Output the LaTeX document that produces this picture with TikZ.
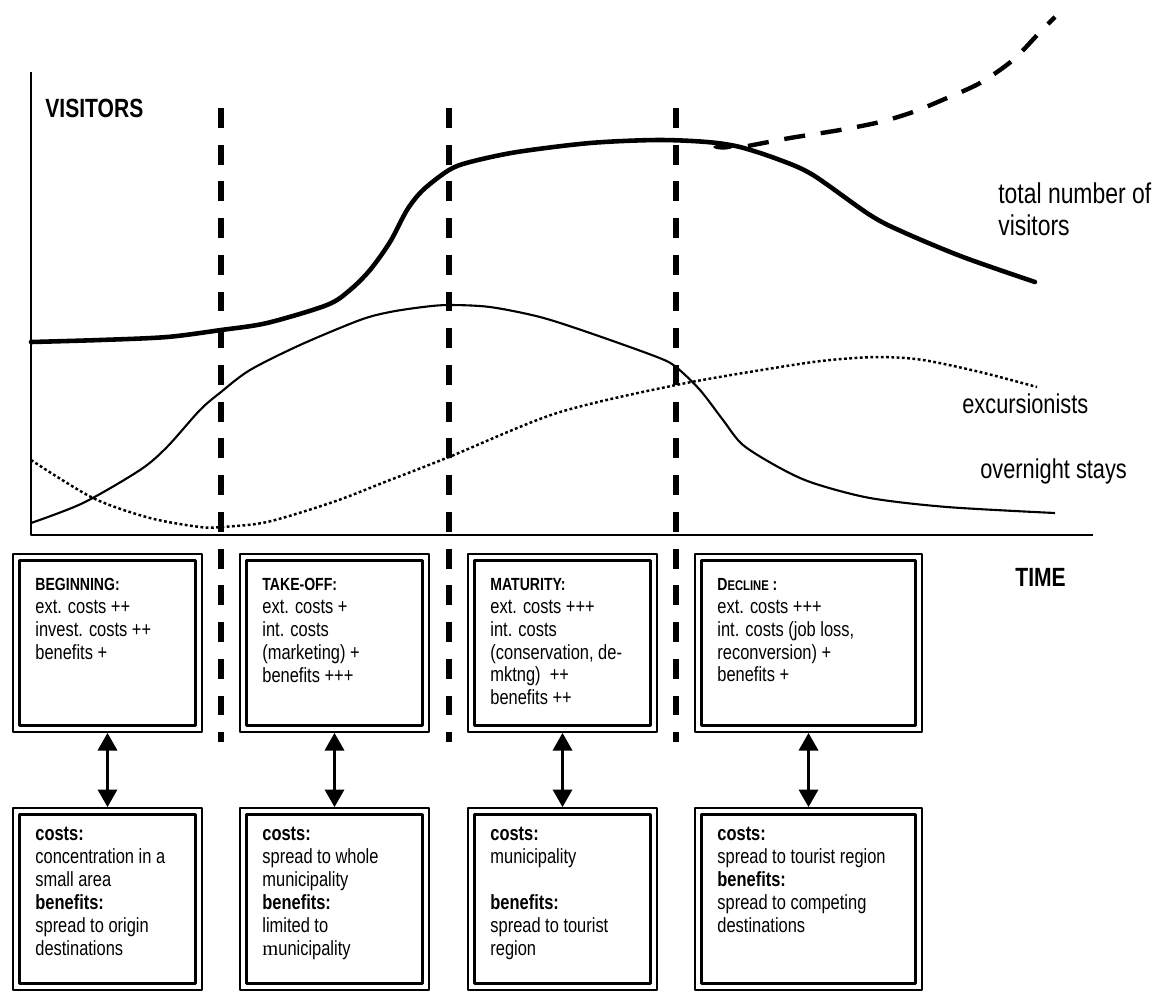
\documentclass[tikz,border=0pt]{standalone}
\usepackage{fontspec}
\setmainfont{Liberation Sans}[FakeStretch=0.8]
\newfontfamily\serifm{Liberation Serif}
\usetikzlibrary{arrows.meta}
\newcommand{\stagehead}[1]{{\fontsize{10}{12}\selectfont\bfseries #1}}
\tikzset{
  stagebox/.style={draw, line width=1.1pt, inner sep=0pt, minimum width=3.78cm, minimum height=3.56cm},
  spreadbox/.style={stagebox, minimum height=3.64cm},
  stagetext/.style={anchor=north west, align=left, inner sep=0pt, font=\fontsize{11.7}{13}\selectfont},
  curvelabel/.style={anchor=base west, inner sep=0pt, font=\fontsize{15.5}{18.7}\selectfont},
  phaseline/.style={line width=3.6pt, dash pattern=on 11.3pt off 9.6pt},
}

\begin{document}
\begin{tikzpicture}[line join=round,>={Triangle[length=10pt,width=11pt]},x=0.02cm,y=-0.02cm]
\useasboundingbox (0,0) rectangle (1165,992);

% axes
\draw [line width=1.2pt] (31,72) -- (31,535) -- (1093,535);
\node [curvelabel, font=\fontsize{15}{18}\selectfont\bfseries] (visitors) at (45,117) {VISITORS};
\node [curvelabel, font=\fontsize{15}{18}\selectfont\bfseries] (time) at (1015,586) {TIME};

% phase limits
\foreach \x in {221,449,676}
  \draw [phaseline] (\x,108) -- (\x,742);

% total number of visitors
\draw [line width=2.6pt,line cap=round] plot [smooth,tension=0.5] coordinates {(31,342) (100,340) (167,337) (221,330) (267,323) (327,305) (350,290) (370,270) (390,242) (407,210) (423,190) (449,170) (470,162) (517,152) (590,143) (657,140) (707,142) (740,147) (780,160) (813,175) (870,215) (903,232) (963,257) (1035,282)};
\fill (723,147) ellipse (5.5pt and 1.5pt);
\draw [line width=2.5pt,dash pattern=on 12pt off 9pt] plot [smooth,tension=0.5] coordinates {(748,146) (790,138) (840,130) (880,122) (913,112) (947,98) (980,83) (1013,60) (1040,32) (1055,17)};
% overnight stays
\draw [line width=1.2pt] plot [smooth,tension=0.5] coordinates {(31,523) (83,503) (140,470) (167,447) (200,410) (221,392) (250,370) (300,345) (360,320) (390,312) (423,307) (449,305) (490,307) (540,317) (590,333) (657,357) (676,367) (700,390) (723,420) (743,445) (780,468) (813,483) (870,498) (947,507) (1055,513)};
% excursionists
\draw [line width=1.4pt,dash pattern=on 1.6pt off 1.4pt] plot [smooth,tension=0.5] coordinates {(31,460) (93,498) (150,518) (200,527) (221,527) (267,522) (333,502) (390,480) (449,457) (557,413) (676,385) (780,367) (830,360) (880,357) (923,360) (980,372) (1037,387)};

\node [curvelabel, font=\fontsize{16.3}{18.7}\selectfont, anchor=north west, align=left] (total) at (998,182) {total number of\\visitors};
\node [curvelabel] (excursion) at (962,413) {excursionists};
\node [curvelabel] (overnight) at (980,478) {overnight stays};

% stages
\node [stagebox] (b1) at (107.5,643) {};
\node [stagebox] (b2) at (334.5,643) {};
\node [stagebox] (b3) at (562.5,643) {};
\node [stagebox, minimum width=4.54cm] (b4) at (808.5,643) {};
\node [spreadbox] (c1) at (107.5,899) {};
\node [spreadbox] (c2) at (334.5,899) {};
\node [spreadbox] (c3) at (562.5,899) {};
\node [spreadbox, minimum width=4.54cm] (c4) at (808.5,899) {};
\foreach \n in {b1,b2,b3,b4,c1,c2,c3,c4}
  \draw [line width=1.7pt] ([shift={(7,7)}]\n.north west) rectangle ([shift={(-7,-7)}]\n.south east);
\foreach \i in {1,...,4}
  \draw [<->,line width=1.4pt] (b\i) -- (c\i);

\node [stagetext] (t1) at ([shift={(23,25)}]b1.north west) {\stagehead{BEGINNING:}\\ext. costs ++\\invest. costs ++\\benefits +};
\node [stagetext] (t2) at ([shift={(23,25)}]b2.north west) {\stagehead{TAKE-OFF:}\\ext. costs +\\int. costs\\(marketing) +\\benefits +++};
\node [stagetext] (t3) at ([shift={(23,25)}]b3.north west) {\stagehead{MATURITY:}\\ext. costs +++\\int. costs\\(conservation, de-\\mktng)\ \ ++\\benefits ++};
\node [stagetext] (t4) at ([shift={(23,25)}]b4.north west) {\stagehead{D{\fontsize{8}{10}\selectfont ECLINE} :}\\ext. costs +++\\int. costs (job loss,\\reconversion) +\\benefits +};

\node [stagetext] (u1) at ([shift={(23,20)}]c1.north west) {\textbf{costs:}\\concentration in a\\small area\\\textbf{benefits:}\\spread to origin\\destinations};
\node [stagetext] (u2) at ([shift={(23,20)}]c2.north west) {\textbf{costs:}\\spread to whole\\municipality\\\textbf{benefits:}\\limited to\\{\serifm m}unicipality};
\node [stagetext] (u3) at ([shift={(23,20)}]c3.north west) {\textbf{costs:}\\municipality\\[13pt]\textbf{benefits:}\\spread to tourist\\region};
\node [stagetext] (u4) at ([shift={(23,20)}]c4.north west) {\textbf{costs:}\\spread to tourist region\\\textbf{benefits:}\\spread to competing\\destinations};

\end{tikzpicture}
\end{document}
